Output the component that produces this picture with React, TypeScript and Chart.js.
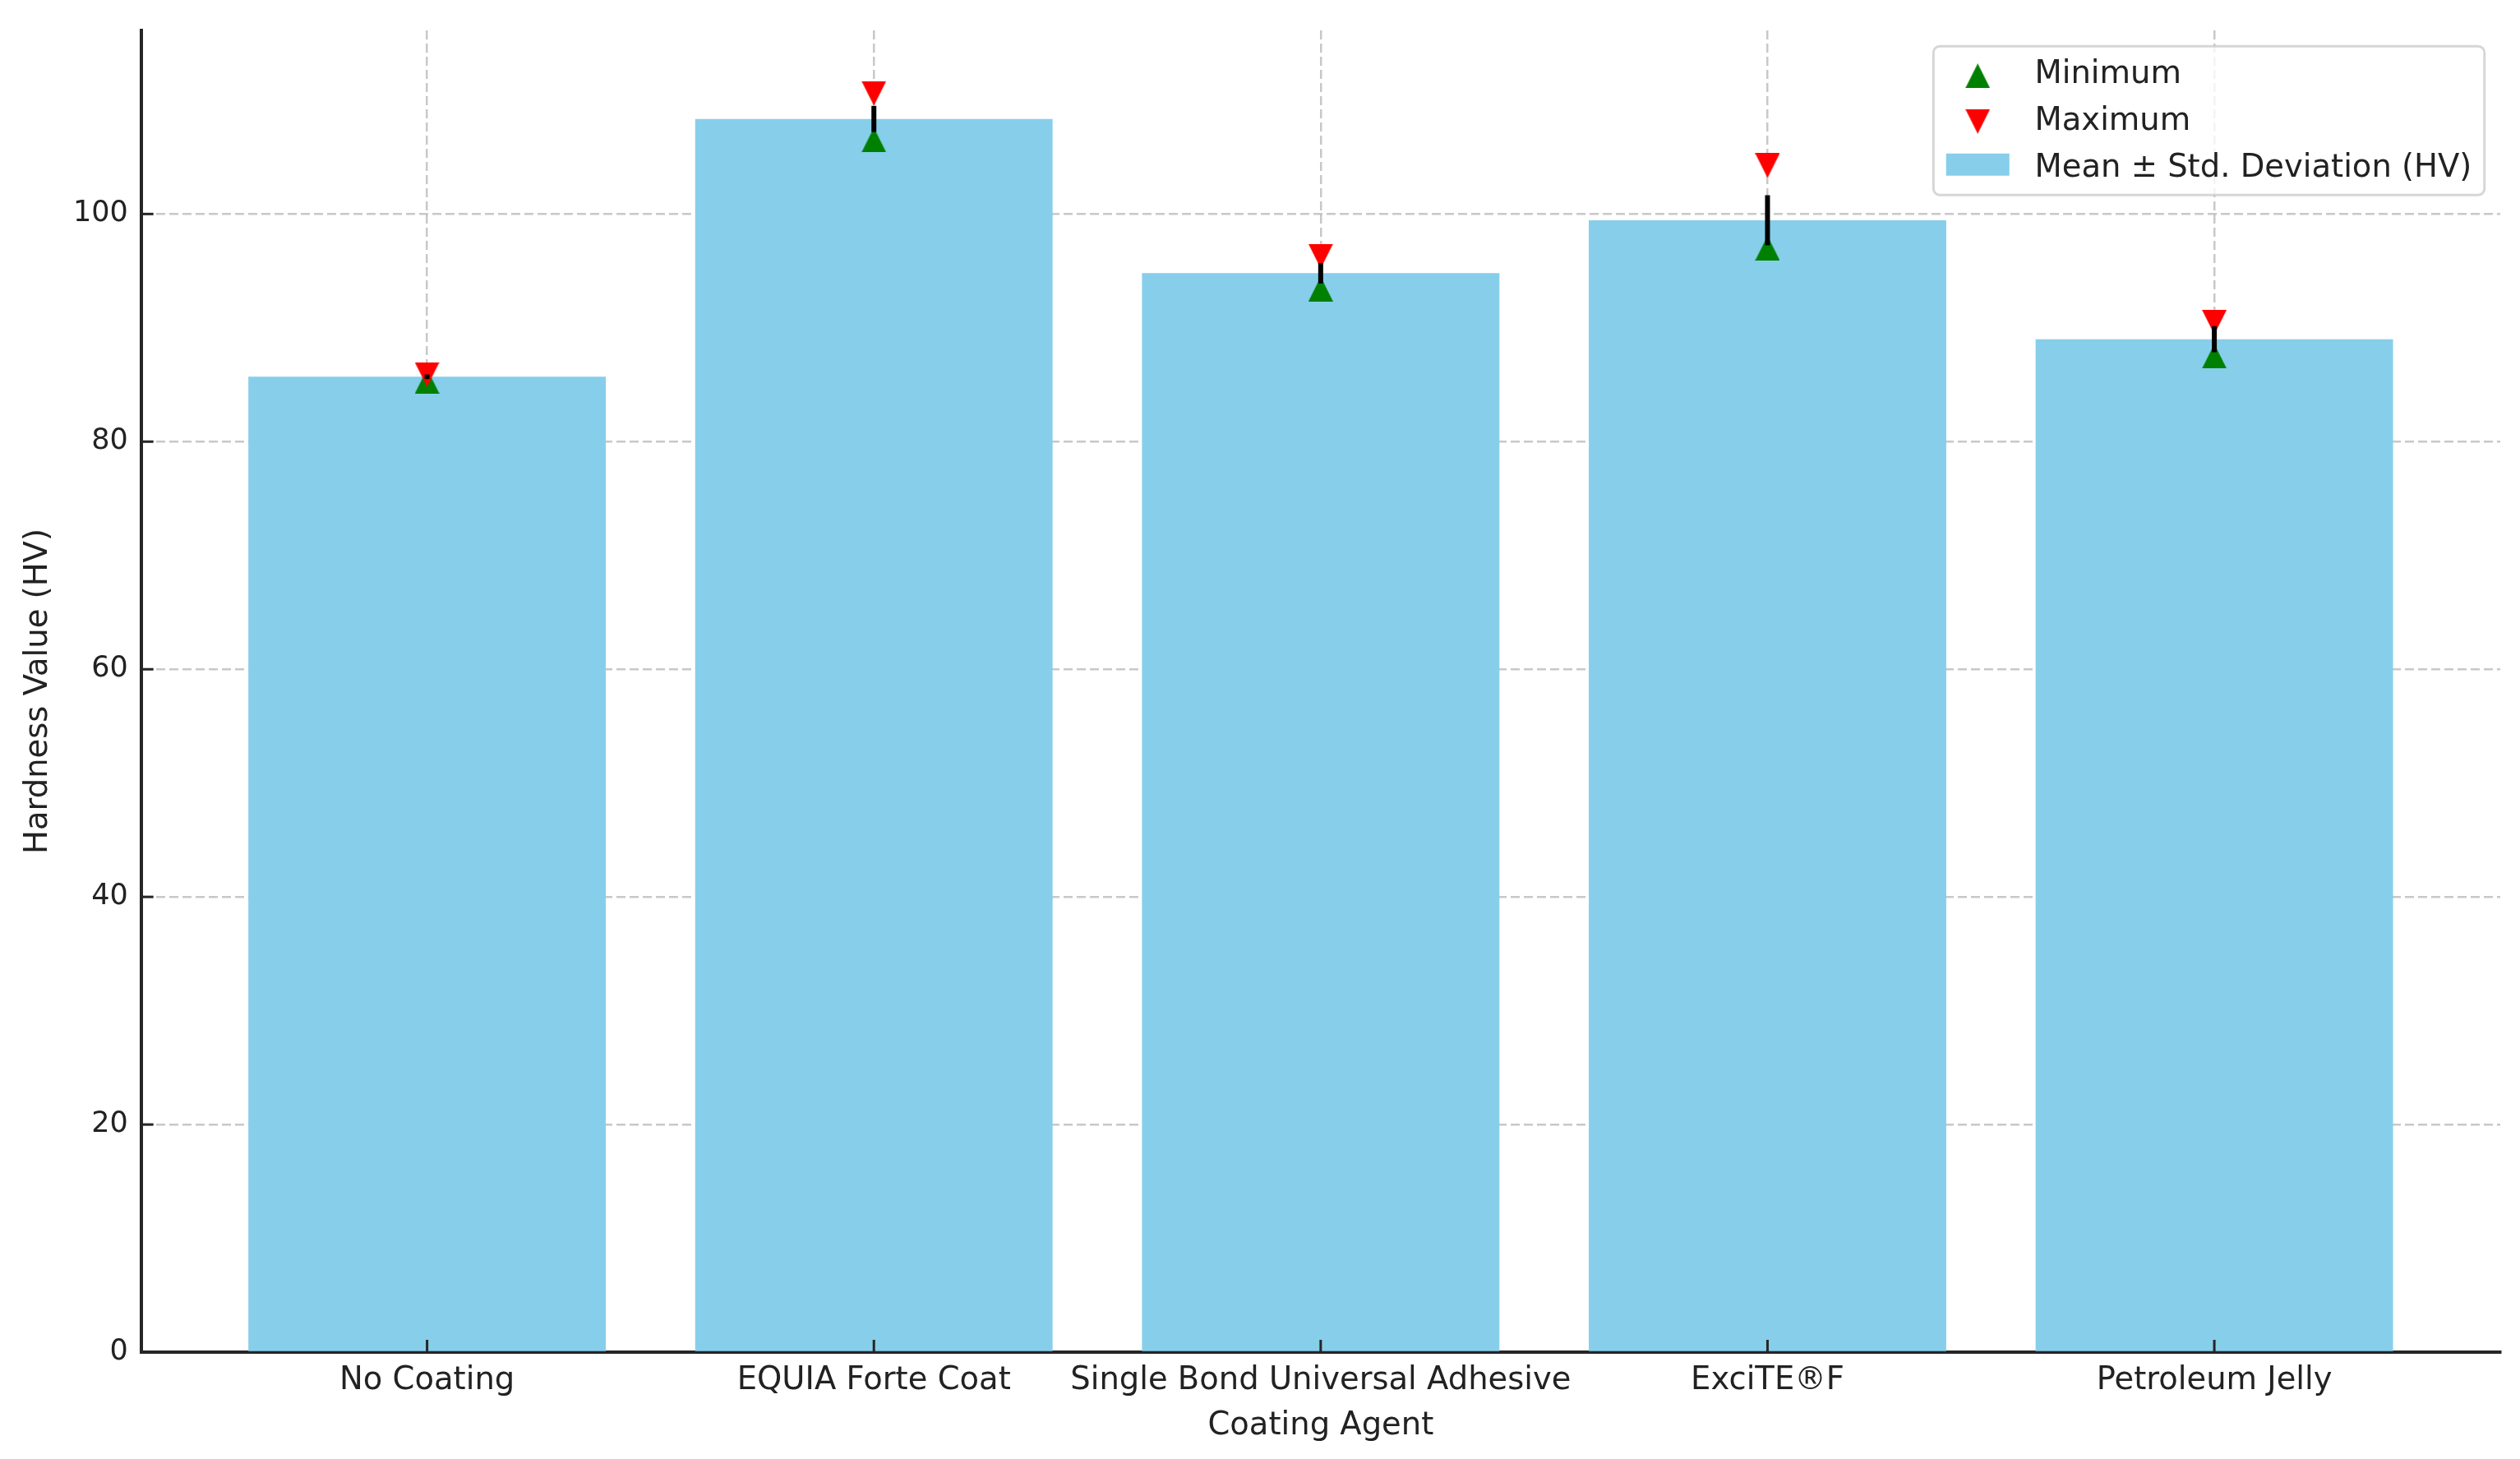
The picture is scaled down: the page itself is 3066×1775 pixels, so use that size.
import React, { useEffect, useRef } from 'react';
import { Chart, registerables } from 'chart.js';

Chart.register(...registerables);

// ---- data ----
const categories = [
  'No Coating',
  'EQUIA Forte Coat',
  'Single Bond Universal Adhesive',
  'ExciTE®F',
  'Petroleum Jelly',
];
const meanHV = [85.7, 108.35, 94.8, 99.45, 89.0];
const stdHV = [0.2, 1.15, 0.9, 2.2, 1.15];
const minHV = [85.3, 106.5, 93.4, 97.0, 87.5];
const maxHV = [85.9, 110.6, 96.3, 104.25, 90.5];
const yTickValues = [0, 20, 40, 60, 80, 100];
const seriesLabels = ['Minimum', 'Maximum', 'Mean ± Std. Deviation (HV)'];
const xTitle = 'Coating Agent';
const yTitle = 'Hardness Value (HV)';

// ---- styles ----
const FONT = "'DejaVu Sans', sans-serif";
const TEXT = '#222222';
const SPINE = '#262626';
const GRID = 'rgba(176,176,176,0.7)';
const BAR = '#87CEEB';
const FS = 38.5;

function triangleImage(color: string, up: boolean, size = 30): HTMLCanvasElement {
  const c = document.createElement('canvas');
  c.width = size;
  c.height = size;
  const g = c.getContext('2d')!;
  g.fillStyle = color;
  g.beginPath();
  if (up) {
    g.moveTo(size / 2, 0);
    g.lineTo(size, size);
    g.lineTo(0, size);
  } else {
    g.moveTo(0, 0);
    g.lineTo(size, 0);
    g.lineTo(size / 2, size);
  }
  g.closePath();
  g.fill();
  return c;
}

export default function App() {
  const ref = useRef<HTMLCanvasElement>(null);

  useEffect(() => {
    const canvas = ref.current;
    if (!canvas) return;
    const upTri = triangleImage('#008000', true);
    const downTri = triangleImage('#ff0000', false);
    const yMax = Math.max(...maxHV) * 1.05;

    const overlay = {
      id: 'overlay',
      afterDraw(chart: any) {
        const ctx: CanvasRenderingContext2D = chart.ctx;
        const ca = chart.chartArea;
        const xs = chart.scales.x;
        const ys = chart.scales.y;
        ctx.save();
        // error bars (mean ± std)
        ctx.strokeStyle = '#000000';
        ctx.lineWidth = 6;
        ctx.lineCap = 'butt';
        meanHV.forEach((m, i) => {
          const px = xs.getPixelForValue(i);
          ctx.beginPath();
          ctx.moveTo(px, ys.getPixelForValue(m - stdHV[i]));
          ctx.lineTo(px, ys.getPixelForValue(m + stdHV[i]));
          ctx.stroke();
        });
        // inward tick marks
        ctx.strokeStyle = SPINE;
        ctx.lineWidth = 3;
        xs.ticks.forEach((t: any) => {
          const px = xs.getPixelForValue(t.value);
          ctx.beginPath();
          ctx.moveTo(px, ca.bottom);
          ctx.lineTo(px, ca.bottom - 15);
          ctx.stroke();
        });
        ys.ticks.forEach((t: any) => {
          const py = ys.getPixelForValue(t.value);
          ctx.beginPath();
          ctx.moveTo(ca.left, py);
          ctx.lineTo(ca.left + 15, py);
          ctx.stroke();
        });
        // legend
        ctx.font = `${FS}px ${FONT}`;
        const pad = 0.4 * FS;
        const handle = 2 * FS;
        const hpad = 0.8 * FS;
        const axPad = 0.5 * FS;
        const textW = Math.max(...seriesLabels.map((l) => ctx.measureText(l).width));
        const w = pad * 2 + handle + hpad + textW;
        const h = 181;
        const right = ca.right - axPad;
        const top = ca.top + axPad;
        const left = right - w;
        ctx.beginPath();
        if ((ctx as any).roundRect) (ctx as any).roundRect(left, top, w, h, 0.2 * FS);
        else ctx.rect(left, top, w, h);
        ctx.fillStyle = 'rgba(255,255,255,0.8)';
        ctx.fill();
        ctx.strokeStyle = 'rgba(204,204,204,0.8)';
        ctx.lineWidth = 3;
        ctx.stroke();
        const hx = left + pad + handle / 2;
        const tx = left + pad + handle + hpad;
        const markerC = [top + 36, top + 91.5, top + 144];
        const baselines = [top + 44.5, top + 102, top + 159];
        ctx.drawImage(upTri, hx - upTri.width / 2, markerC[0] - upTri.height / 2);
        ctx.drawImage(downTri, hx - downTri.width / 2, markerC[1] - downTri.height / 2);
        ctx.fillStyle = BAR;
        ctx.fillRect(left + pad, markerC[2] - 0.35 * FS, handle, 0.7 * FS);
        ctx.fillStyle = TEXT;
        ctx.textAlign = 'left';
        ctx.textBaseline = 'alphabetic';
        seriesLabels.forEach((l, i) => ctx.fillText(l, tx, baselines[i]));
        ctx.restore();
      },
    };

    const chart = new Chart(canvas, {
      type: 'bar',
      data: {
        datasets: [
          {
            type: 'bar',
            label: seriesLabels[2],
            data: meanHV.map((v, i) => ({ x: i, y: v })),
            backgroundColor: BAR,
            borderWidth: 0,
            barPercentage: 0.8,
            categoryPercentage: 1,
            order: 3,
          } as any,
          {
            type: 'scatter',
            label: seriesLabels[0],
            data: minHV.map((v, i) => ({ x: i, y: v })),
            pointStyle: upTri,
            pointRadius: 15,
            order: 2,
          } as any,
          {
            type: 'scatter',
            label: seriesLabels[1],
            data: maxHV.map((v, i) => ({ x: i, y: v })),
            pointStyle: downTri,
            pointRadius: 15,
            order: 1,
          } as any,
        ],
      },
      options: {
        animation: false,
        responsive: true,
        maintainAspectRatio: false,
        events: [],
        layout: { padding: { top: 35.4, right: 24, bottom: 0, left: 0 } },
        plugins: { legend: { display: false }, tooltip: { enabled: false } },
        scales: {
          x: {
            type: 'linear',
            min: -0.64,
            max: 4.64,
            offset: false,
            z: 1,
            afterBuildTicks: (s: any) => {
              s.ticks = categories.map((_, i) => ({ value: i }));
            },
            afterFit: (s: any) => {
              s.height = 130;
            },
            grid: { offset: false, drawTicks: false, color: GRID, lineWidth: 2.5 },
            border: { display: true, color: SPINE, width: 4, dash: [11, 5] },
            ticks: {
              autoSkip: false,
              maxRotation: 0,
              minRotation: 0,
              padding: 11.5,
              color: TEXT,
              font: { family: FONT, size: FS },
              callback: (v: any) => categories[Math.round(Number(v))],
            },
            title: {
              display: true,
              text: xTitle,
              color: TEXT,
              font: { family: FONT, size: FS },
              padding: { top: 0, bottom: 17 },
            },
          },
          y: {
            type: 'linear',
            min: 0,
            max: yMax,
            z: 1,
            afterBuildTicks: (s: any) => {
              s.ticks = yTickValues.map((v) => ({ value: v }));
            },
            afterFit: (s: any) => {
              s.width = 171.7;
            },
            grid: { drawTicks: false, color: GRID, lineWidth: 2.5 },
            border: { display: true, color: SPINE, width: 4, dash: [11, 5] },
            ticks: {
              padding: 16,
              color: TEXT,
              font: { family: FONT, size: 35 },
              callback: (v: any) => String(v),
            },
            title: {
              display: true,
              text: yTitle,
              color: TEXT,
              font: { family: FONT, size: FS },
              padding: { top: 23.5, bottom: 0 },
            },
          },
        } as any,
      },
      plugins: [overlay],
    });

    return () => chart.destroy();
  }, []);

  return (
    <div style={{ position: 'fixed', left: 0, top: 0, width: '3066px', height: '1775px', background: '#ffffff' }}>
      <canvas ref={ref} />
    </div>
  );
}
